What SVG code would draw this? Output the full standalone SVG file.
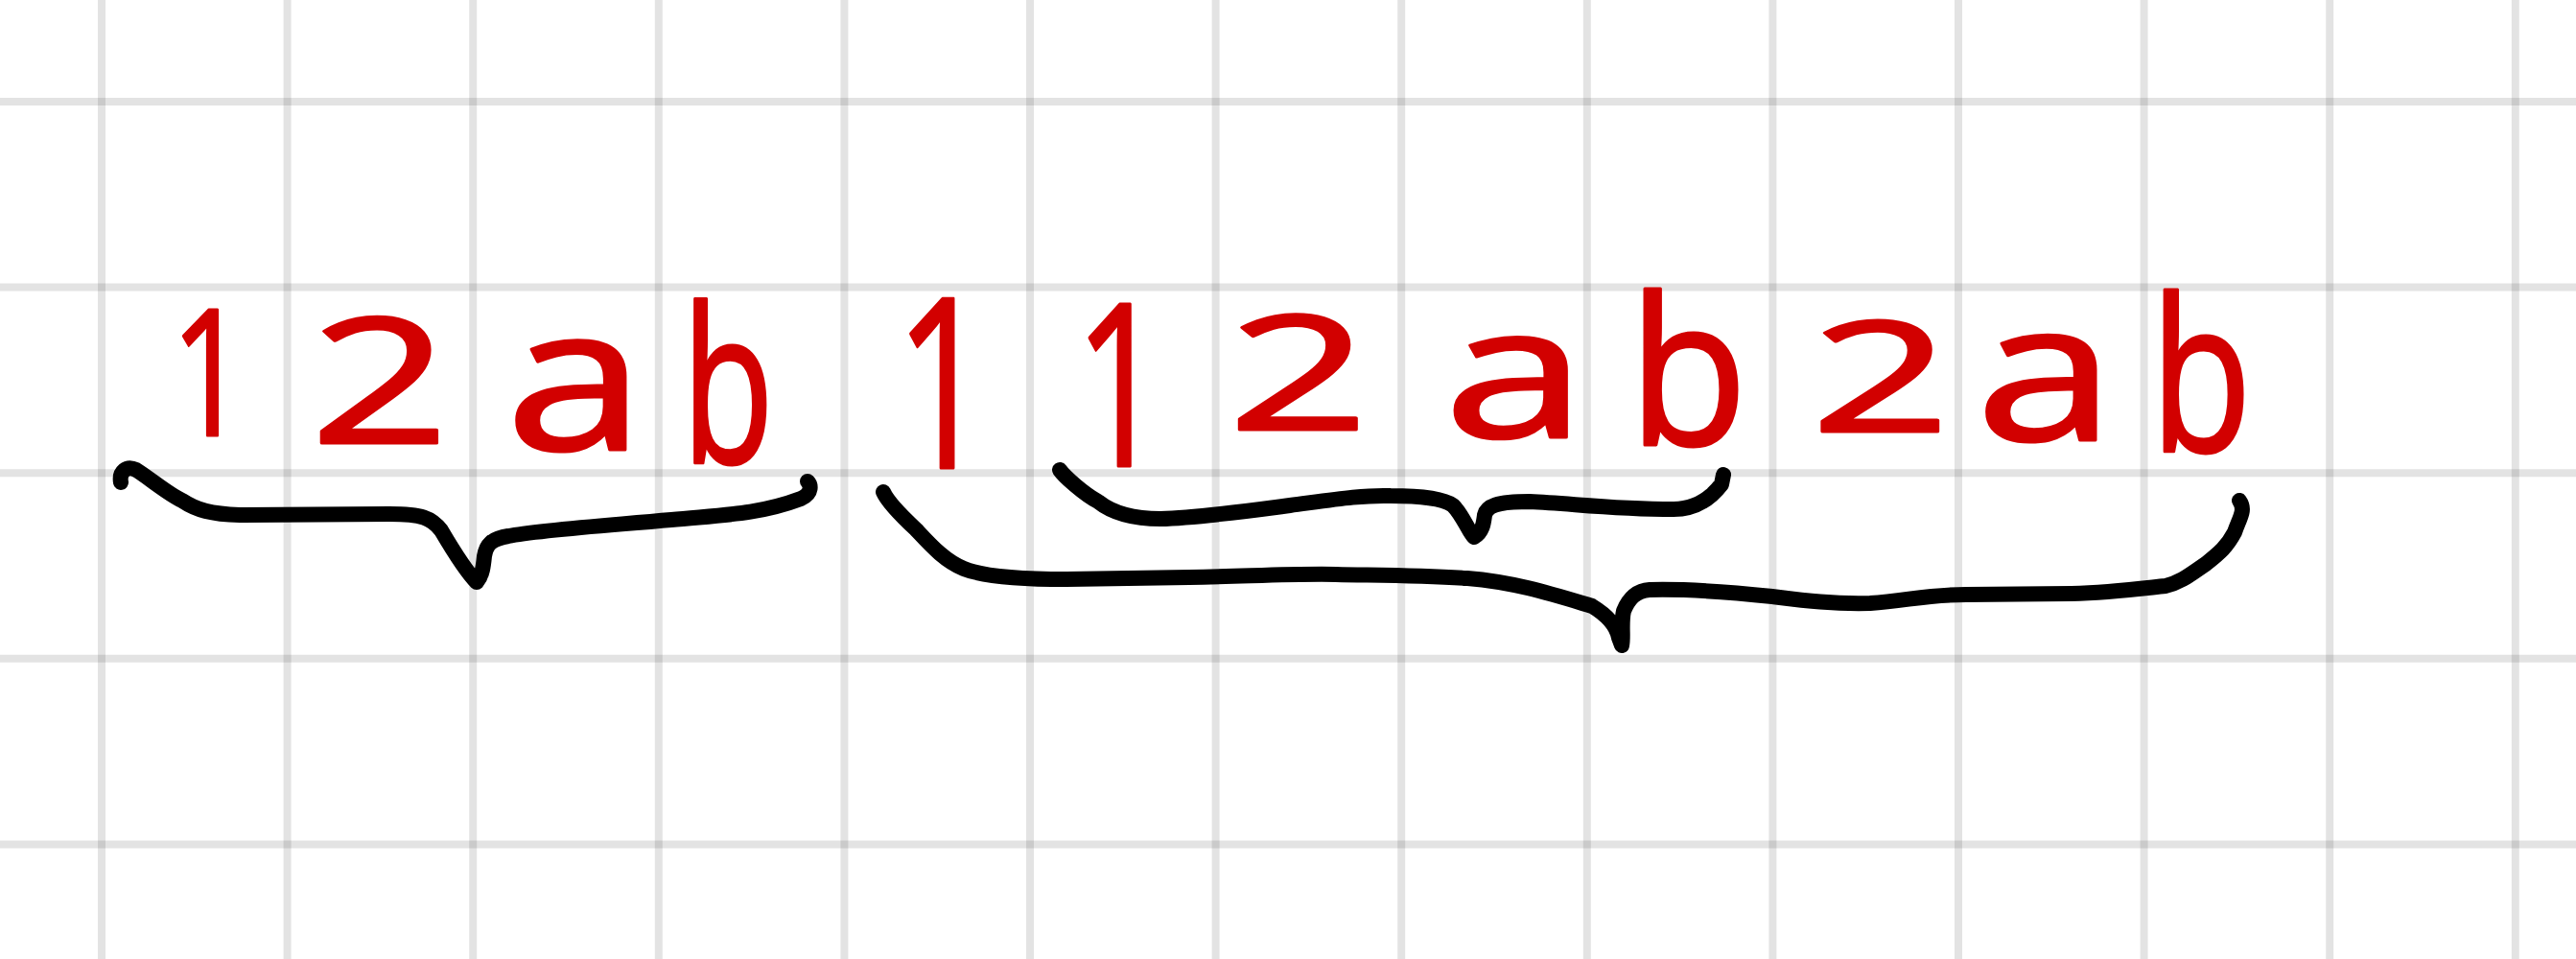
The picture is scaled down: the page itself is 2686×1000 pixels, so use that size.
<svg xmlns="http://www.w3.org/2000/svg" width="2686" height="1000" viewBox="0 0 2686 1000">
  <style>
    .grid line { stroke: #000; stroke-opacity: 0.11; stroke-width: 8; }
    .ink { fill: #d20000; stroke: #d20000; stroke-width: 3; stroke-linejoin: round; text-anchor: middle; }
    .brace { fill: none; stroke: #000; stroke-width: 16; stroke-linecap: round; stroke-linejoin: round; }
  </style>
  <rect width="2686" height="1000" fill="#fff"/>
  <g id="grid" class="grid">
    <line x1="106" y1="0" x2="106" y2="1000"/>
    <line x1="299.6" y1="0" x2="299.6" y2="1000"/>
    <line x1="493.2" y1="0" x2="493.2" y2="1000"/>
    <line x1="686.8" y1="0" x2="686.8" y2="1000"/>
    <line x1="880.4" y1="0" x2="880.4" y2="1000"/>
    <line x1="1074" y1="0" x2="1074" y2="1000"/>
    <line x1="1267.6" y1="0" x2="1267.6" y2="1000"/>
    <line x1="1461.2" y1="0" x2="1461.2" y2="1000"/>
    <line x1="1654.8" y1="0" x2="1654.8" y2="1000"/>
    <line x1="1848.4" y1="0" x2="1848.4" y2="1000"/>
    <line x1="2042" y1="0" x2="2042" y2="1000"/>
    <line x1="2235.6" y1="0" x2="2235.6" y2="1000"/>
    <line x1="2429.2" y1="0" x2="2429.2" y2="1000"/>
    <line x1="2622.8" y1="0" x2="2622.8" y2="1000"/>
    <line x1="0" y1="106" x2="2686" y2="106"/>
    <line x1="0" y1="299.6" x2="2686" y2="299.6"/>
    <line x1="0" y1="493.2" x2="2686" y2="493.2"/>
    <line x1="0" y1="686.8" x2="2686" y2="686.8"/>
    <line x1="0" y1="880.4" x2="2686" y2="880.4"/>
  </g>
  <g id="terms" class="ink" font-family="'Open Sans', 'Liberation Sans', sans-serif">
    <text id="t1" transform="translate(218,454) scale(0.75,1)" font-size="184">1</text>
    <text id="t2" transform="translate(396,462) scale(1.4,1)" font-size="182">2</text>
    <text id="t3" transform="translate(600,469) scale(1.25,1)" font-size="210">a</text>
    <text id="t4" transform="translate(759,483) scale(0.7,1)" font-size="225">b</text>
    <text id="t5" transform="translate(983,488) scale(0.7,1)" font-size="248">1</text>
    <text id="t6" transform="translate(1168,486) scale(0.7,1)" font-size="236">1</text>
    <text id="t7" transform="translate(1354,448) scale(1.55,1)" font-size="166">2</text>
    <text id="t8" transform="translate(1580,456) scale(1.4,1)" font-size="192">a</text>
    <text id="t9" transform="translate(1760,464) scale(0.95,1)" font-size="215">b</text>
    <text id="t10" transform="translate(1961,450) scale(1.6,1)" font-size="159">2</text>
    <text id="t11" transform="translate(2133,459) scale(1.3,1)" font-size="202">a</text>
    <text id="t12" transform="translate(2295,471) scale(0.78,1)" font-size="222">b</text>
  </g>
  <g id="connectors">
    <path id="brace1" class="brace" d="M126,503 C124,492 132,485 142,490 C155,498 175,515 190,522 C205,532 220,536 250,537 L406,536 C440,536 450,540 460,553 C470,570 485,595 497,607 C503,600 504,590 505,580 C507,568 512,562 530,559 C560,553 620,549 700,542 C750,537 790,537 835,520 C848,514 845,505 842,502"/>
    <path id="brace2" class="brace" d="M1105,490 C1110,497 1130,515 1145,523 C1160,535 1180,541 1210,541 C1250,540 1300,533 1345,527 C1390,521 1420,516 1450,517 C1480,517 1505,520 1515,527 C1525,537 1530,552 1537,560 C1546,555 1547,545 1548,537 C1550,528 1560,523 1595,523 C1640,525 1680,531 1745,531 C1770,531 1785,518 1795,505 L1797,495"/>
    <path id="brace3" class="brace" d="M921,513 C925,522 940,538 955,552 C970,568 985,585 1005,593 C1025,601 1060,604 1112,604 L1240,602 C1300,601 1350,598 1393,599 C1440,600 1480,600 1530,603 C1580,607 1620,620 1660,632 C1680,644 1686,655 1688,665 L1691,673 C1693,665 1690,650 1693,637 C1698,625 1705,616 1720,615 C1760,614 1810,618 1848,622 C1880,626 1910,630 1950,629 C1990,626 2010,620 2050,620 L2160,619 C2200,618 2230,614 2258,611 C2275,607 2285,598 2300,588 C2315,576 2322,570 2330,555 C2335,540 2342,532 2335,522"/>
  </g>
</svg>
